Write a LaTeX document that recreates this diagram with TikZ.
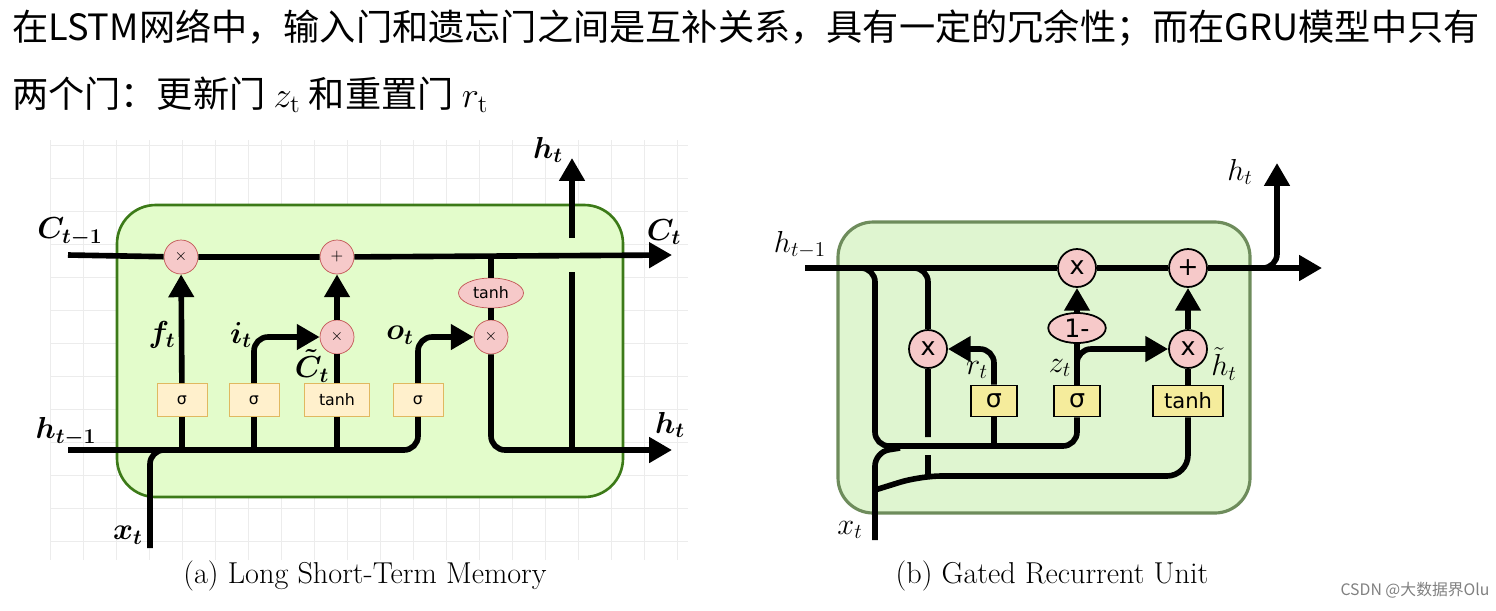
\documentclass[tikz,border=0pt]{standalone}
\usepackage{fontspec}
\usepackage{amsmath,amssymb}
\newfontfamily\cjk{Noto Sans CJK SC}
\newfontfamily\sans{DejaVu Sans}
\usetikzlibrary{positioning, calc, arrows.meta, shapes.geometric}
\definecolor{cellA}{HTML}{E3FCCB}
\definecolor{edgeA}{HTML}{3C7A18}
\definecolor{cellB}{HTML}{DFF5D0}
\definecolor{edgeB}{HTML}{6E8C5C}
\definecolor{opfill}{HTML}{F6C9C9}
\definecolor{opedge}{HTML}{C25555}
\definecolor{gateA}{HTML}{FFF0CC}
\definecolor{gateAedge}{HTML}{E0B860}
\definecolor{gateB}{HTML}{F5EC9C}
\tikzset{
  wire/.style={line width=3.2pt, rounded corners=8pt},
  arr/.style={wire, -{Triangle[length=13pt,width=14pt]}},
  op/.style={circle, draw=opedge, fill=opfill, minimum size=0.68cm, inner sep=0pt, font=\sans\small},
  opB/.style={circle, draw=black, line width=1pt, fill=opfill, minimum size=0.76cm, inner sep=0pt, font=\sans\Large},
  gateA/.style={draw=gateAedge, fill=gateA, minimum width=1cm, minimum height=0.66cm, inner sep=1pt, font=\sans\small},
  gateB/.style={draw=black, line width=1pt, fill=gateB, minimum width=0.92cm, minimum height=0.62cm, inner sep=1pt, font=\sans\Large},
  lbl/.style={font=\LARGE\boldmath, inner sep=1pt},
  lblB/.style={font=\LARGE, inner sep=1pt},
}
\begin{document}
\begin{tikzpicture}[x=0.02cm, y=-0.02cm]
      \useasboundingbox (0,0) rectangle (1496,610);
      \node[anchor=west, font=\cjk\fontsize{20.6}{24}\selectfont] (head1) at (6,28) {在LSTM网络中，输入门和遗忘门之间是互补关系，具有一定的冗余性；而在GRU模型中只有};
      \node[anchor=west, font=\cjk\fontsize{20.6}{24}\selectfont] (head2) at (6,95) {两个门：更新门 $z_{\mathrm{t}}$ 和重置门 $r_{\mathrm{t}}$};
      % LSTM
      \foreach \gx in {50,83,...,688} \draw[gray!15] (\gx,140) -- (\gx,560);
      \foreach \gy in {145,178,...,560} \draw[gray!15] (50,\gy) -- (688,\gy);
      \draw[draw=edgeA, fill=cellA, line width=1.5pt, rounded corners=22pt] (117,205) rectangle (623,497);
      \node[op] (fx) at (181,257) {$\times$};
      \node[op] (cp) at (337,257) {$+$};
      \node[op] (ix) at (337,337) {$\times$};
      \node[op] (ox) at (491,337) {$\times$};
      \node[ellipse, draw=opedge, fill=opfill, minimum width=1.3cm, minimum height=0.6cm, inner sep=0pt, font=\sans\small] (ct) at (491,293) {tanh};
      \node[gateA] (fg) at (182,400) {σ};
      \node[gateA] (ig) at (254,400) {σ};
      \node[gateA, minimum width=1.3cm] (cg) at (337,400) {tanh};
      \node[gateA] (og) at (418,400) {σ};
      \coordinate (cin) at (68,255);
      \coordinate (cout) at (672,255);
      \coordinate (hin) at (68,450);
      \coordinate (hout) at (672,450);
      \coordinate (htop) at (572,158);
      \coordinate (xin) at (150,548);
      \draw[wire] (cin) -- (fx) -- (cp);
      \draw[arr] (cp) -- (cout);
      \draw[wire] (491,255) -- (ct);
      \draw[wire] (hin) -- (418,450) -- (og);
      \draw[wire] (xin) -- (150,450) -- (200,450);
      \draw[wire] (fg) -- (182,450);
      \draw[wire] (ig) -- (254,450);
      \draw[wire] (cg) -- (337,450);
      \draw[arr] (fg) -- (fx);
      \draw[arr] (ix) -- (cp);
      \draw[wire] (cg) -- (ix);
      \draw[arr] (ig) -- (254,337) -- (ix);
      \draw[arr] (og) -- (418,337) -- (ox);
      \draw[wire] (ct) -- (ox);
      \draw[arr] (ox) -- (491,450) -- (hout);
      \draw[wire] (572,450) -- (572,272);
      \draw[arr] (572,238) -- (htop);
      \node[lbl] (lc0) at (70,232) {$C_{t-1}$};
      \node[lbl] (lc1) at (664,232) {$C_t$};
      \node[lbl] (lh0) at (66,432) {$h_{t-1}$};
      \node[lbl] (lh1) at (670,425) {$h_t$};
      \node[lbl] (lh2) at (548,150) {$h_t$};
      \node[lbl] (lx) at (128,535) {$x_t$};
      \node[lbl] (lf) at (162,335) {$f_t$};
      \node[lbl] (li) at (241,335) {$i_t$};
      \node[lbl] (lct) at (312,366) {$\tilde C_t$};
      \node[lbl] (lo) at (400,335) {$o_t$};
      \node[font=\fontsize{17.2}{21}\selectfont] (capA) at (365,576) {(a) Long Short-Term Memory};
      % GRU
      \draw[draw=edgeB, fill=cellB, line width=1.8pt, rounded corners=20pt] (838,222) rectangle (1250,513);
      \node[opB] (zx) at (1077,268) {x};
      \node[opB] (hp) at (1188,268) {+};
      \node[opB] (rx) at (928,349) {x};
      \node[opB] (hx) at (1188,349) {x};
      \node[ellipse, draw=black, line width=1pt, fill=opfill, minimum width=1.15cm, minimum height=0.6cm, inner sep=0pt, font=\sans\Large] (om) at (1077,328) {1-};
      \node[gateB] (rg) at (994,401) {σ};
      \node[gateB] (zg) at (1077,401) {σ};
      \node[gateB, minimum width=1.4cm, font=\sans\large] (tg) at (1188,401) {tanh};
      \coordinate (gin) at (805,268);
      \coordinate (gout) at (1322,268);
      \coordinate (gtop) at (1277,163);
      \coordinate (gx) at (875,540);
      \draw[wire] (gin) -- (zx) -- (hp);
      \draw[arr] (hp) -- (gout);
      \draw[arr] (1262,268) -- (1277,268) -- (gtop);
      \draw[wire] (850,268) -- (875,268) -- (875,446) -- (1077,446) -- (zg);
      \draw[wire] (rg) -- (994,446);
      \draw[wire] (910,268) -- (928,268) -- (rx) -- (928,437);
      \draw[wire] (928,455) -- (928,475);
      \draw[wire] (gx) -- (875,452) -- (900,448);
      \draw[wire, rounded corners=12pt] (875,490) -- (920,476) -- (1188,476) -- (tg);
      \draw[arr] (rg) -- (994,349) -- (rx);
      \draw[wire] (zg) -- (om);
      \draw[arr] (om) -- (zx);
      \draw[arr] (zg.north) -- (1077,349) -- (hx);
      \draw[wire] (tg) -- (hx);
      \draw[arr] (hx) -- (hp);
      \node[lblB] (gh0) at (800,245) {$h_{t-1}$};
      \node[lblB] (gh1) at (1240,172) {$h_t$};
      \node[lblB] (gr) at (977,370) {$r_t$};
      \node[lblB] (gz) at (1060,368) {$z_t$};
      \node[lblB] (ght) at (1224,364) {$\tilde h_t$};
      \node[lblB] (gxl) at (850,530) {$x_t$};
      \node[font=\fontsize{17.2}{21}\selectfont] (capB) at (1052,576) {(b) Gated Recurrent Unit};
      \node[font=\cjk\small, text=gray] (mark) at (1415,590) {CSDN @大数据界Olu};
    \end{tikzpicture}
\end{document}
